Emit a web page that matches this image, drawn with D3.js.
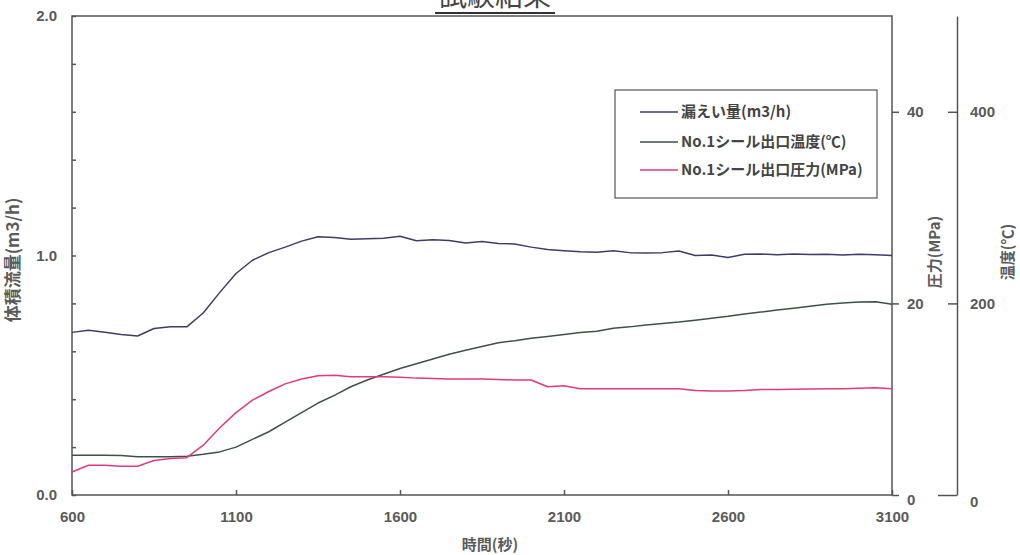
<!DOCTYPE html>
<html lang="ja">
<head>
<meta charset="utf-8">
<title>試験結果</title>
<style>
    body { margin:0; background:#fff; }
    svg text { font-family:"Liberation Sans Narrow","Liberation Sans","Noto Sans CJK JP",sans-serif; font-weight:bold; fill:#5a5a5a; }
    .jp { font-family:"Noto Sans CJK JP",sans-serif; }
    .axis line, .axis path { stroke:#555; stroke-width:1.5; }
    .series { fill:none; stroke-width:1.5; stroke-linejoin:round; }
</style>
</head>
<body>
<svg id="chart" width="1020" height="555"></svg>
<script src="https://cdnjs.cloudflare.com/ajax/libs/d3/7.8.5/d3.min.js"></script>
<script>
// time (s)
var times = [600,650,700,750,800,850,900,950,1000,1050,1100,1150,1200,1250,1300,1350,1400,1450,1500,1550,
             1600,1650,1700,1750,1800,1850,1900,1950,2000,2050,2100,2150,2200,2250,2300,2350,2400,2450,2500,2550,
             2600,2650,2700,2750,2800,2850,2900,2950,3000,3050,3100];

// 漏えい量 (m3/h) - left axis
var leak = [0.679,0.688,0.680,0.670,0.664,0.695,0.702,0.702,0.760,0.845,0.925,0.980,1.012,1.035,1.060,1.078,1.075,1.068,1.070,1.072,
            1.080,1.062,1.066,1.063,1.052,1.058,1.050,1.048,1.035,1.025,1.020,1.016,1.014,1.020,1.012,1.010,1.012,1.019,1.000,1.002,
            0.992,1.005,1.006,1.003,1.006,1.004,1.005,1.002,1.005,1.003,1.000];

// No.1シール出口温度 (℃) - temperature axis
var temp = [41.4,41.4,41.4,41.2,40.0,40.0,40.0,40.5,42.5,45,50,58,66,76,86,96,104,113,120,126,
            132,137,142,147,151,155,159,161,163.5,165.5,167.5,169.5,171,174,175.5,177.5,179,180.5,182.5,184.5,
            186.5,189,191,193,195,197,199,200.5,201.5,201.8,199];

// No.1シール出口圧力 (MPa) - pressure axis
var pres = [2.4,3.1,3.1,3.0,3.0,3.6,3.8,3.9,5.2,7.0,8.6,9.9,10.8,11.6,12.1,12.45,12.5,12.35,12.35,12.35,
            12.3,12.2,12.15,12.1,12.1,12.1,12.05,12.0,12.0,11.3,11.4,11.1,11.1,11.1,11.1,11.1,11.1,11.1,10.9,10.86,
            10.86,10.9,11.0,11.0,11.05,11.06,11.1,11.1,11.15,11.2,11.1];

var xTicks = [600,1100,1600,2100,2600,3100];
var leakTicks = [0,0.2,0.4,0.6,0.8,1.0,1.2,1.4,1.6,1.8,2.0];
var presTicks = [0,20,40];
var tempTicks = [0,200,400];

var seriesNames = ["漏えい量(m3/h)","No.1シール出口温度(℃)","No.1シール出口圧力(MPa)"];
var seriesColors = ["#3d3d66","#3e5244","#e03a82"];

var svg = d3.select("#chart");
var plotL = 72, plotR = 892, plotT = 16, plotB = 495;

var x = d3.scaleLinear().domain([600,3100]).range([plotL,plotR]);
var yLeak = d3.scaleLinear().domain([0,2]).range([plotB,plotT]);
var yPres = d3.scaleLinear().domain([0,50]).range([plotB,plotT]);
var yTemp = d3.scaleLinear().domain([0,500]).range([plotB,plotT]);

//title (cut off at the top, as in the source image)
svg.append("text").attr("class","jp")
    .attr("x",495).attr("y",6)
    .attr("text-anchor","middle")
    .style("font-size","28px").style("font-weight","normal").style("fill","#444")
    .text("試験結果");
svg.append("line").attr("x1",435).attr("x2",555).attr("y1",13).attr("y2",13)
    .attr("stroke","#333").attr("stroke-width",2);

//frame
svg.append("rect").attr("x",plotL).attr("y",plotT)
    .attr("width",plotR-plotL).attr("height",plotB-plotT)
    .attr("fill","none").attr("stroke","#555").attr("stroke-width",1.5);

//left axis
var fmtLeak = function(d){ return Math.abs(d - Math.round(d)) < 1e-6 ? d3.format(".1f")(d) : ""; };
var gl = svg.append("g").attr("class","axis")
    .attr("transform","translate(" + plotL + ",0)")
    .call(d3.axisLeft(yLeak).tickValues(leakTicks).tickFormat(fmtLeak).tickSize(-4).tickPadding(15));
gl.select(".domain").remove();

//bottom axis
var gb = svg.append("g").attr("class","axis")
    .attr("transform","translate(0," + plotB + ")")
    .call(d3.axisBottom(x).tickValues(xTicks).tickFormat(d3.format("d")).tickSize(-5).tickPadding(16));
gb.select(".domain").remove();

//pressure axis
var gp = svg.append("g").attr("class","axis")
    .attr("transform","translate(" + plotR + ",0)")
    .call(d3.axisRight(yPres).tickValues(presTicks).tickSize(7).tickPadding(8).tickSizeOuter(0));
gp.select(".domain").remove();

//temperature axis
var gt = svg.append("g").attr("class","axis")
    .attr("transform","translate(957,0)")
    .call(d3.axisRight(yTemp).tickValues(tempTicks).tickSize(-9).tickPadding(13).tickSizeOuter(0));
gt.selectAll(".tick").filter(function(d){ return d === 0; }).select("line").attr("x2",-19);

d3.selectAll(".axis text").style("font-size","15px");
gp.selectAll(".tick").filter(function(d){ return d === 0; }).select("text").attr("dy","0.6em");
gt.selectAll(".tick").filter(function(d){ return d === 0; }).select("text").attr("dy","0.75em");

//axis titles
svg.append("text").attr("class","jp")
    .attr("transform","translate(19,260) rotate(-90)")
    .attr("text-anchor","middle").style("font-size","17px")
    .text("体積流量(m3/h)");
svg.append("text").attr("class","jp")
    .attr("transform","translate(940,252) rotate(-90)")
    .attr("text-anchor","middle").style("font-size","15px")
    .text("圧力(MPa)");
svg.append("text").attr("class","jp")
    .attr("transform","translate(1013,252) rotate(-90)")
    .attr("text-anchor","middle").style("font-size","15px")
    .text("温度(℃)");
svg.append("text").attr("class","jp")
    .attr("x",490).attr("y",550)
    .attr("text-anchor","middle").style("font-size","15px")
    .text("時間(秒)");

//series lines
var seriesData = [leak, temp, pres];
var seriesScales = [yLeak, yTemp, yPres];
var drawOrder = [1, 2, 0];
drawOrder.forEach(function(k){
    var line = d3.line()
        .x(function(d,i){ return x(times[i]); })
        .y(function(d){ return seriesScales[k](d); });
    svg.append("path").attr("class","series")
        .attr("stroke", seriesColors[k])
        .attr("d", line(seriesData[k]));
});

//legend
var legend = svg.append("g").attr("transform","translate(615,90)");
legend.append("rect").attr("width",262).attr("height",108)
    .attr("fill","#fff").attr("stroke","#555").attr("stroke-width",1.2);
var item = legend.selectAll(".item").data(seriesNames).enter().append("g")
    .attr("transform", function(d,i){ return "translate(0," + [22,52,80][i] + ")"; });
item.append("line").attr("x1",25).attr("x2",63)
    .attr("stroke", function(d,i){ return seriesColors[i]; }).attr("stroke-width",1.5);
item.append("text").attr("class","jp")
    .attr("x",66).attr("dy","0.35em")
    .style("font-size","15px").style("fill","#444")
    .text(function(d){ return d; });
</script>
</body>
</html>
